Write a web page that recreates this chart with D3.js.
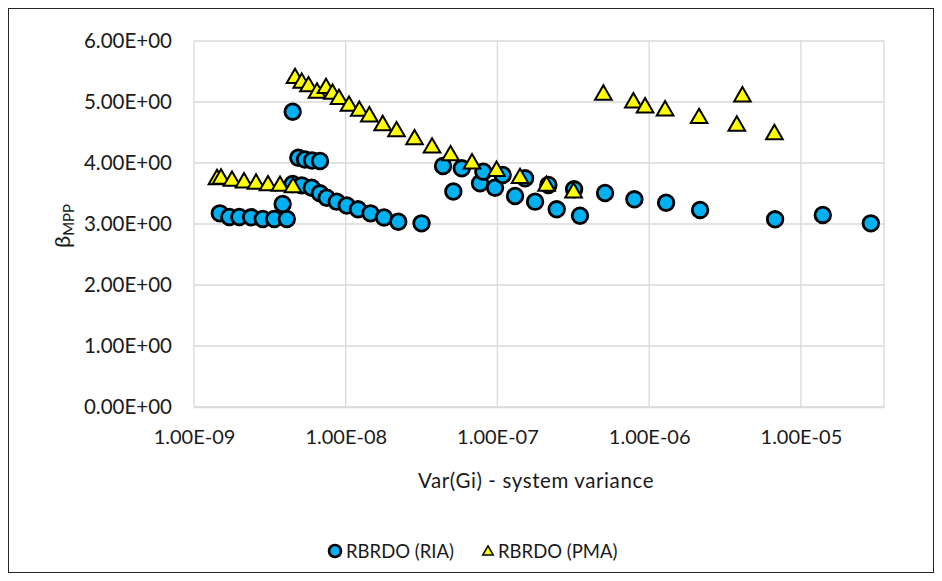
<!DOCTYPE html>
<html>
<head>
<meta charset="utf-8">
<script src="https://cdn.jsdelivr.net/npm/d3@7"></script>
<style>
  body { margin: 0; background: #fff; }
  svg { display: block; }
</style>
</head>
<body>
<svg id="chart" width="942" height="581"></svg>
<script>
// RBRDO (RIA) - circles
const riaVar = [1.48e-9, 1.71e-9, 1.99e-9, 2.38e-9, 2.84e-9, 3.38e-9, 4.09e-9, 3.84e-9,
  4.47e-9, 4.87e-9, 5.39e-9, 6.0e-9, 6.77e-9,
  4.47e-9, 5.13e-9, 5.97e-9, 6.77e-9, 7.49e-9, 8.72e-9, 1.015e-8, 1.205e-8, 1.457e-8, 1.788e-8, 2.22e-8, 3.16e-8,
  4.38e-8, 5.12e-8, 5.82e-8, 7.68e-8, 8.07e-8, 9.64e-8, 1.083e-7, 1.306e-7, 1.521e-7, 1.77e-7,
  2.166e-7, 2.459e-7, 3.2e-7, 3.5e-7, 5.12e-7, 7.99e-7, 1.293e-6, 2.166e-6, 6.76e-6, 1.394e-5, 2.89e-5];
const riaBeta = [3.175, 3.115, 3.115, 3.11, 3.082, 3.082, 3.082, 3.328,
  4.841, 4.087, 4.057, 4.041, 4.033,
  3.656, 3.634, 3.595, 3.503, 3.431, 3.366, 3.303, 3.241, 3.175, 3.107, 3.038, 3.011,
  3.951, 3.533, 3.913, 3.667, 3.857, 3.595, 3.803, 3.459, 3.749, 3.366,
  3.639, 3.241, 3.569, 3.136, 3.508, 3.405, 3.349, 3.23, 3.077, 3.148, 3.011];

// RBRDO (PMA) - triangles
const pmaVar = [1.418e-9, 1.507e-9, 1.78e-9, 2.136e-9, 2.563e-9, 3.075e-9, 3.689e-9, 4.494e-9,
  4.633e-9, 5.13e-9, 5.685e-9, 6.47e-9, 7.414e-9, 8.18e-9, 9.03e-9, 1.051e-8, 1.229e-8, 1.431e-8,
  1.753e-8, 2.162e-8, 2.842e-8, 3.706e-8, 4.909e-8, 6.8e-8, 9.86e-8, 1.409e-7, 2.107e-7, 3.174e-7,
  4.99e-7, 7.87e-7, 9.4e-7, 1.273e-6, 2.133e-6, 3.781e-6, 4.117e-6, 6.69e-6];
const pmaBeta = [3.73, 3.738, 3.705, 3.677, 3.656, 3.631, 3.623, 3.598,
  5.389, 5.311, 5.254, 5.148, 5.225, 5.131, 5.044, 4.934, 4.852, 4.759,
  4.615, 4.516, 4.385, 4.249, 4.123, 3.989, 3.866, 3.749, 3.623, 3.513,
  5.115, 4.989, 4.907, 4.857, 4.733, 4.607, 5.087, 4.47];

const xTicks = [1e-9, 1e-8, 1e-7, 1e-6, 1e-5];
const yTicks = [0, 1, 2, 3, 4, 5, 6];
const seriesNames = ["RBRDO (RIA)", "RBRDO (PMA)"];

const fontFamily = "Lato, 'Open Sans', sans-serif";
const textColor = "#1a1a1a";
const svg = d3.select("#chart").attr("font-family", fontFamily);
const plot = {left: 194, right: 884, top: 41, bottom: 407};

const x = d3.scaleLog().domain([1e-9, 3.53e-5]).range([plot.left, plot.right]);
const y = d3.scaleLinear().domain([0, 6]).range([plot.bottom, plot.top]);

// chart border
svg.append("rect")
  .attr("x", 8.5).attr("y", 8.5).attr("width", 925).attr("height", 564)
  .attr("fill", "#fff").attr("stroke", "#262626").attr("stroke-width", 1);

// grid
const grid = svg.append("g").attr("stroke", "#d9d9d9").attr("stroke-width", 1.3);
grid.selectAll("line.h").data(yTicks).enter().append("line")
  .attr("x1", plot.left).attr("x2", plot.right)
  .attr("y1", d => y(d)).attr("y2", d => y(d));
grid.selectAll("line.v").data(xTicks).enter().append("line")
  .attr("y1", plot.top).attr("y2", plot.bottom)
  .attr("x1", d => x(d)).attr("x2", d => x(d));
grid.append("line")
  .attr("x1", plot.right).attr("x2", plot.right)
  .attr("y1", plot.top).attr("y2", plot.bottom);

// axes (labels only, Excel style)
const fmtE = d => {
  const e = Math.floor(Math.log10(d) + 1e-9);
  const m = d / Math.pow(10, e);
  return m.toFixed(2) + "E" + (e < 0 ? "-" : "+") + String(Math.abs(e)).padStart(2, "0");
};

const xAxis = svg.append("g")
  .attr("transform", `translate(0,${plot.bottom})`)
  .call(d3.axisBottom(x).tickValues(xTicks).tickFormat(fmtE).tickSize(0).tickPadding(0));
xAxis.select(".domain").attr("stroke", "#d9d9d9").attr("stroke-width", 1.3);
xAxis.selectAll("text")
  .attr("font-family", fontFamily).attr("font-size", 20).attr("fill", textColor)
  .attr("dy", null).attr("y", 37);

const yAxis = svg.append("g")
  .attr("transform", `translate(${plot.left},0)`)
  .call(d3.axisLeft(y).tickValues(yTicks).tickFormat(d => d.toFixed(2) + "E+00").tickSize(0).tickPadding(22));
yAxis.select(".domain").remove();
yAxis.selectAll("text")
  .attr("font-family", fontFamily).attr("font-size", 20.5).attr("fill", textColor);

// axis titles
svg.append("text")
  .attr("x", (plot.left + plot.right) / 2 - 3).attr("y", 488)
  .attr("text-anchor", "middle").attr("font-size", 20.5).attr("letter-spacing", 0.6)
  .attr("fill", textColor)
  .text("Var(Gi) - system variance");

const yt = svg.append("text")
  .attr("transform", "translate(70,226) rotate(-90)")
  .attr("text-anchor", "middle").attr("font-size", 22).attr("fill", textColor);
yt.append("tspan").text("β");
yt.append("tspan").attr("font-size", 15).attr("dy", 4).text("MPP");

// markers
const triangle = d3.symbol().type(d3.symbolTriangle).size(120);

svg.append("g").selectAll("circle")
  .data(d3.zip(riaVar, riaBeta)).enter().append("circle")
  .attr("cx", d => x(d[0])).attr("cy", d => y(d[1])).attr("r", 7.8)
  .attr("fill", "#00b0f0").attr("stroke", "#000").attr("stroke-width", 2.8);

svg.append("g").selectAll("path")
  .data(d3.zip(pmaVar, pmaBeta)).enter().append("path")
  .attr("d", triangle)
  .attr("transform", d => `translate(${x(d[0])},${y(d[1])})`)
  .attr("fill", "#ffff00").attr("stroke", "#000").attr("stroke-width", 2);

// legend
const legend = svg.append("g").attr("font-size", 18.5).attr("fill", textColor);
legend.append("circle").attr("cx", 335).attr("cy", 551).attr("r", 6)
  .attr("fill", "#00b0f0").attr("stroke", "#000").attr("stroke-width", 2.6);
legend.append("text").attr("x", 346).attr("y", 557.5).text(seriesNames[0]);
legend.append("path").attr("d", d3.symbol().type(d3.symbolTriangle).size(48))
  .attr("transform", "translate(488,552)")
  .attr("fill", "#ffff00").attr("stroke", "#000").attr("stroke-width", 1.5);
legend.append("text").attr("x", 498).attr("y", 557.5).text(seriesNames[1]);
</script>
</body>
</html>
